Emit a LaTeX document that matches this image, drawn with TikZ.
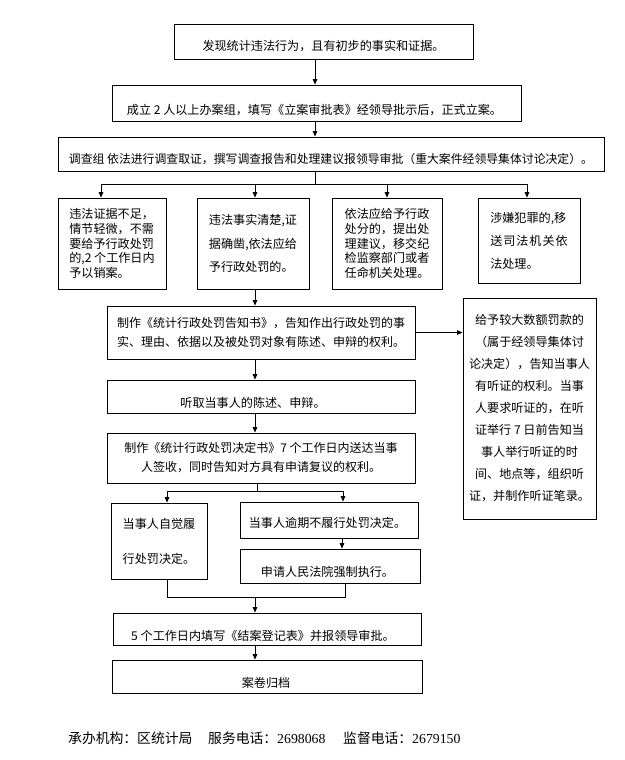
\documentclass[tikz,border=0pt]{standalone}
\usepackage{fontspec}
\setmainfont{Noto Sans CJK SC}
\newfontfamily\digitfont{Liberation Serif}
\usetikzlibrary{arrows.meta}
\begin{document}
\begin{tikzpicture}[x=1pt,y=-1pt,
  box/.style={draw, line width=0.8pt, inner sep=0pt, font=\fontsize{12.1}{14.7}\selectfont},
  txt/.style={inner sep=0pt, font=\fontsize{12.1}{14.7}\selectfont},
  arr/.style={line width=0.8pt, -{Triangle[length=5.5pt,width=4.5pt]}},
  ln/.style={line width=0.8pt},
  foot/.style={inner sep=0pt, anchor=base west, font=\fontsize{13.8}{16}\selectfont}
]
\useasboundingbox (0,0) rectangle (624,760);
\fill[white] (0,0) rectangle (624,760);

% top chain
\node[box, minimum width=299pt, minimum height=35pt] (b1) at (323.5,41.5) {};
\node[txt] (t1) at ([yshift=-5pt]b1.center) {发现统计违法行为，且有初步的事实和证据。};
\node[box, minimum width=409pt, minimum height=36pt] (b2) at (316.5,103) {};
\node[txt] (t2) at ([xshift=-2pt,yshift=-7pt]b2.center) {成立 2 人以上办案组，填写《立案审批表》经领导批示后，正式立案。};
\node[box, minimum width=546pt, minimum height=34pt] (b3) at (331,154) {};
\node[txt, font=\fontsize{11.85}{14}\selectfont] (t3) at ([yshift=-5pt]b3.center) {调查组 依法进行调查取证，撰写调查报告和处理建议报领导审批（重大案件经领导集体讨论决定）。};

\coordinate (j1) at (315,184);
\draw[arr] (b1.south -| j1) -- (b2.north -| j1);
\draw[arr] (b2.south -| j1) -- (b3.north -| j1);

% four outcomes
\node[box, minimum width=108pt, minimum height=91pt, align=left] (bA) at (112,243.5)
  {违法证据不足，\\情节轻微，不需\\要给予行政处罚\\的,2 个工作日内\\予以销案。};
\node[box, minimum width=112pt, minimum height=91pt, align=left, font=\fontsize{12.1}{23.5}\selectfont] (bB) at (253,243.5)
  {违法事实清楚,证\\据确凿,依法应给\\予行政处罚的。};
\node[box, minimum width=110pt, minimum height=91pt, align=left] (bC) at (387,243.5)
  {依法应给予行政\\处分的，提出处\\理建议，移交纪\\检监察部门或者\\任命机关处理。};
\node[box, minimum width=102pt, minimum height=85pt, align=left, font=\fontsize{12.1}{23}\selectfont] (bD) at (529,240.5)
  {涉嫌犯罪的,移\\\makebox[6.4em][s]{送\hfil 司\hfil 法\hfil 机\hfil 关\hfil 依}\\法处理。};

\coordinate (hA) at (101,184);
\coordinate (hB) at (255,184);
\coordinate (hC) at (387,184);
\coordinate (hD) at (527,184);
\draw[ln] (b3.south -| j1) -- (j1);
\draw[ln] (hA) -- (hD);
\draw[arr] (hA) -- (hA |- bA.north);
\draw[arr] (hB) -- (hB |- bB.north);
\draw[arr] (hC) -- (hC |- bC.north);
\draw[arr] (hD) -- (hD |- bD.north);

% notice
\node[box, minimum width=308pt, minimum height=53pt, align=center, font=\fontsize{12}{18.5}\selectfont] (N) at (261,332.5)
  {制作《统计行政处罚告知书》，告知作出行政处罚的事\\实、理由、依据以及被处罚对象有陈述、申辩的权利。};
\draw[arr] (bB.south -| hB) -- (N.north -| hB);

% hearing box
\node[box, minimum width=133pt, minimum height=221pt, align=center, font=\fontsize{12.1}{22}\selectfont] (R) at (529.5,408.5)
  {给予较大数额罚款的\\（属于经领导集体讨\\论决定），告知当事人\\有听证的权利。当事\\人要求听证的，在听\\证举行 7 日前告知当\\事人举行听证的时\\间、地点等，组织听\\证，并制作听证笔录。};
\draw[arr] (N.east) -- (R.west |- N.east);

% listen
\node[box, minimum width=308pt, minimum height=33pt] (L) at (261,396.5) {};
\node[txt] (tL) at (253,403) {听取当事人的陈述、申辩。};
\draw[arr] (N.south -| hB) -- (L.north -| hB);

% decision
\node[box, minimum width=308pt, minimum height=50pt, align=center, font=\fontsize{12}{19}\selectfont] (Dc) at (261,458)
  {制作《统计行政处罚决定书》7 个工作日内送达当事\\人签收，同时告知对方具有申请复议的权利。};
\draw[arr] (L.south -| hB) -- (Dc.north -| hB);

% execution
\node[box, minimum width=96pt, minimum height=76pt, align=left, font=\fontsize{12.1}{35}\selectfont] (S) at (159,541)
  {当事人自觉履\\行处罚决定。};
\node[box, minimum width=178pt, minimum height=36pt] (O) at (329,520) {};
\node[txt] (tO) at (327.5,523) {当事人逾期不履行处罚决定。};
\node[box, minimum width=180pt, minimum height=34pt] (Ct) at (330,566) {};
\node[txt] (tCt) at (327.5,572) {申请人民法院强制执行。};

\coordinate (k1) at (257,491);
\coordinate (kS) at (167,491);
\coordinate (kO) at (343,491);
\draw[ln] (Dc.south -| k1) -- (k1);
\draw[ln] (kS) -- (kO);
\draw[arr] (kS) -- (kS |- S.north);
\draw[arr] (kO) -- (kO |- O.north);
\coordinate (xo) at (342,540);
\draw[arr] (O.south -| xo) -- (Ct.north -| xo);

% closing
\node[box, minimum width=308pt, minimum height=32pt] (F) at (267,629) {};
\node[txt] (tF) at (263,636) {5 个工作日内填写《结案登记表》并报领导审批。};
\node[box, minimum width=310pt, minimum height=33pt] (G) at (267,676.5) {};
\node[txt] (tG) at (266,683) {案卷归档};

\coordinate (m1) at (167,597);
\coordinate (m2) at (345,597);
\coordinate (m3) at (255,597);
\draw[ln] (S.south -| m1) -- (m1) -- (m2) -- (Ct.south -| m2);
\draw[arr] (m3) -- (F.north -| m3);
\draw[arr] (F.south -| m3) -- (G.north -| m3);

% footer
\node[foot] (f1) at (68,743) {承办机构：区统计局};
\node[foot] (f2) at (208,743) {服务电话：{\digitfont 2698068}};
\node[foot] (f3) at (343,743) {监督电话：{\digitfont 2679150}};
\end{tikzpicture}
\end{document}
